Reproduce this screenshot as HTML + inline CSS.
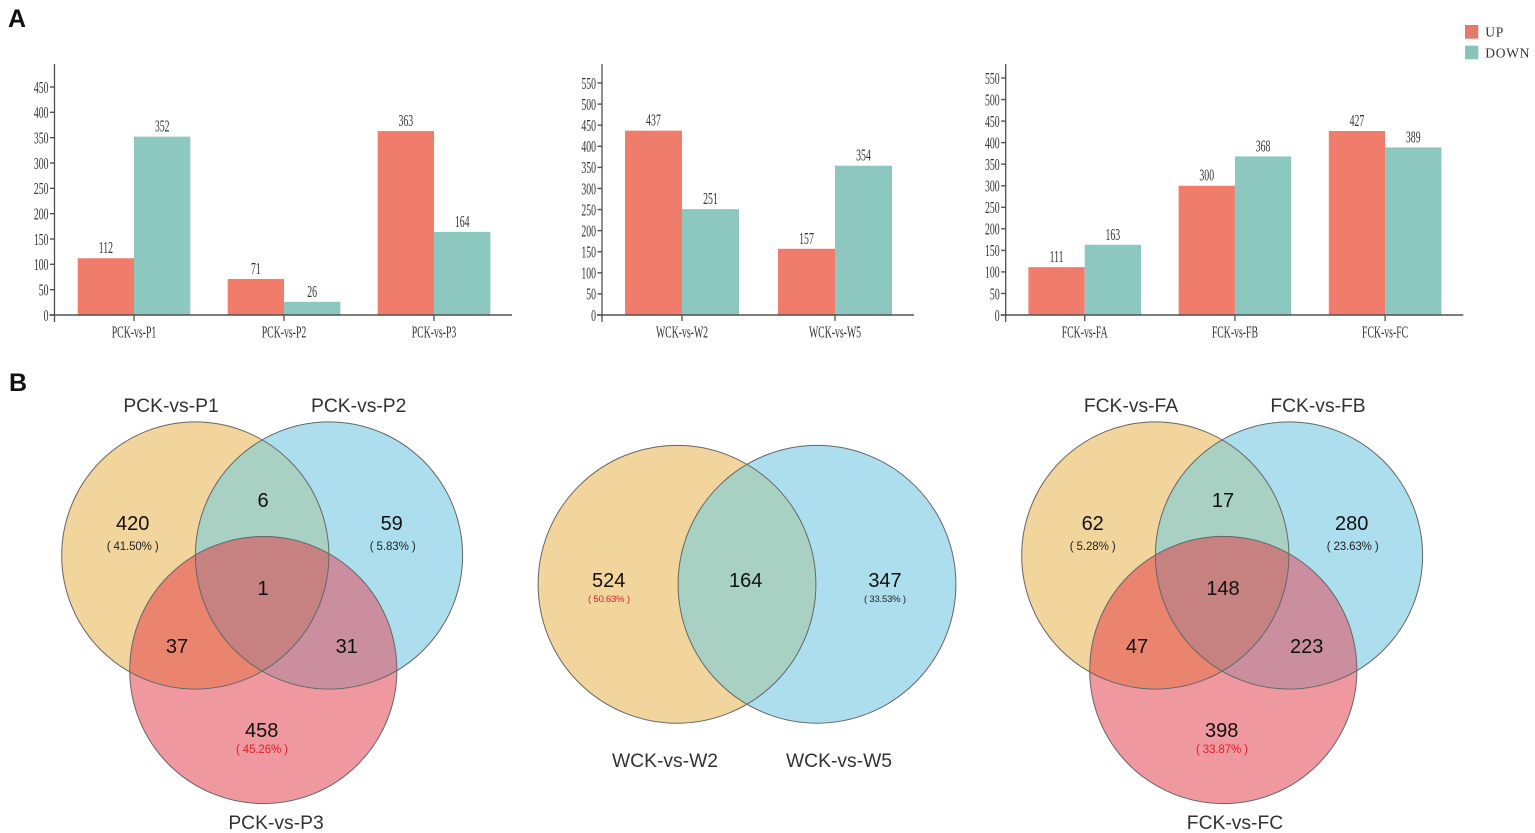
<!DOCTYPE html>
<html lang="en">
<head>
<meta charset="utf-8">
<title>Differential expression bar charts and Venn diagrams</title>
<style>
html,body{margin:0;padding:0;background:#fff;width:1535px;height:833px;overflow:hidden}
svg{display:block;filter:blur(0.35px)}
.panel{font-family:"Liberation Sans",sans-serif;font-weight:700;font-size:25px;fill:#111}
.serif{font-family:"Liberation Serif",serif;fill:#333}
.sans{font-family:"Liberation Sans",sans-serif}
</style>
</head>
<body>
<svg id="figure" xmlns="http://www.w3.org/2000/svg" width="1535" height="833" viewBox="0 0 1535 833">
  <text class="panel" x="8" y="27">A</text>
  <text class="panel" x="9" y="391">B</text>
  <g>
    <rect x="1465" y="25" width="13.3" height="13.7" fill="#E27B6C"/>
    <text class="serif" x="1485.3" y="36.7" font-size="13.5" letter-spacing="0.7">UP</text>
    <rect x="1465" y="45.7" width="13.3" height="13.6" fill="#89C3BB"/>
    <text class="serif" x="1485.3" y="57.3" font-size="13.5" letter-spacing="0.7">DOWN</text>
  </g>
  <g id="charts"></g>
  <g id="venns"></g>
</svg>
<script>
// ---- bar chart data ----
const pckCategories = ['PCK-vs-P1', 'PCK-vs-P2', 'PCK-vs-P3'];
const pckUp = [112, 71, 363];
const pckDown = [352, 26, 164];
const pckTicks = [0, 50, 100, 150, 200, 250, 300, 350, 400, 450];

const wckCategories = ['WCK-vs-W2', 'WCK-vs-W5'];
const wckUp = [437, 157];
const wckDown = [251, 354];
const wckTicks = [0, 50, 100, 150, 200, 250, 300, 350, 400, 450, 500, 550];

const fckCategories = ['FCK-vs-FA', 'FCK-vs-FB', 'FCK-vs-FC'];
const fckUp = [111, 300, 427];
const fckDown = [163, 368, 389];
const fckTicks = [0, 50, 100, 150, 200, 250, 300, 350, 400, 450, 500, 550];

// ---- venn data ----
const pckVennNames = ['PCK-vs-P1', 'PCK-vs-P2', 'PCK-vs-P3'];
const pckVennCounts = [420, 59, 458, 6, 37, 31, 1];
const pckVennPercents = ['41.50%', '5.83%', '45.26%'];

const wckVennNames = ['WCK-vs-W2', 'WCK-vs-W5'];
const wckVennCounts = [524, 347, 164];
const wckVennPercents = ['50.63%', '33.53%'];

const fckVennNames = ['FCK-vs-FA', 'FCK-vs-FB', 'FCK-vs-FC'];
const fckVennCounts = [62, 280, 398, 17, 47, 223, 148];
const fckVennPercents = ['5.28%', '23.63%', '33.87%'];

// ---- helpers ----
const NS = 'http://www.w3.org/2000/svg';
const UP_COLOR = '#F07C6C';
const DOWN_COLOR = '#8CC8C0';
const AXIS_COLOR = '#505050';

function make(parent, tag, attrs) {
  const el = document.createElementNS(NS, tag);
  for (const k in attrs) el.setAttribute(k, attrs[k]);
  parent.appendChild(el);
  return el;
}
function condensed(parent, str, x, y, anchor, size) {
  const el = make(parent, 'text', {
    'class': 'serif',
    'font-size': size,
    'text-anchor': anchor,
    transform: 'translate(' + x + ',' + y + ') scale(0.575,1)'
  });
  el.textContent = str;
  return el;
}
function slug(s) { return s.toLowerCase(); }

// ---- bar charts ----
function drawBarChart(cfg) {
  const root = document.getElementById('charts');
  const g = make(root, 'g', {});
  
  

  const y = v => cfg.zeroY - v * cfg.pxPerUnit;
  const x = i => cfg.firstCenter + i * cfg.band;

  cfg.categories.forEach((cat, i) => {
    const top1 = y(cfg.up[i]);
    const top2 = y(cfg.down[i]);
    const upBar = make(g, 'rect', { x: x(i) - cfg.barW, y: top1, width: cfg.barW, height: cfg.zeroY - top1, fill: UP_COLOR });
    
    
    const downBar = make(g, 'rect', { x: x(i), y: top2, width: cfg.barW, height: cfg.zeroY - top2, fill: DOWN_COLOR });
    
    

    const upLabel = condensed(g, String(cfg.up[i]), x(i) - cfg.barW / 2, top1 - 5, 'middle', 17);
    
    
    const downLabel = condensed(g, String(cfg.down[i]), x(i) + cfg.barW / 2, top2 - 5, 'middle', 17);
    
    

    const tick = make(g, 'line', { x1: x(i), x2: x(i), y1: cfg.zeroY, y2: cfg.zeroY + 6, stroke: AXIS_COLOR, 'stroke-width': 1.3 });
    
    
    const catLabel = condensed(g, cat, x(i), 337.3, 'middle', 17);
    
    
  });

  const yAxis = make(g, 'line', { x1: cfg.axisX, x2: cfg.axisX, y1: 64, y2: cfg.zeroY + 7, stroke: AXIS_COLOR, 'stroke-width': 1.3 });
  
  
  const xAxis = make(g, 'line', { x1: cfg.axisX - 5, x2: cfg.axisEnd, y1: cfg.zeroY, y2: cfg.zeroY, stroke: AXIS_COLOR, 'stroke-width': 1.6 });
  
  

  cfg.ticks.forEach(t => {
    const tk = make(g, 'line', { x1: cfg.axisX - 4.5, x2: cfg.axisX, y1: y(t), y2: y(t), stroke: AXIS_COLOR, 'stroke-width': 1.4 });
    
    
    const lb = condensed(g, String(t), cfg.axisX - 6, y(t) + 5.8, 'end', 17);
    
    
  });
}

drawBarChart({ key: 'pck', categories: pckCategories, up: pckUp, down: pckDown, ticks: pckTicks,
  axisX: 54.5, axisEnd: 512, zeroY: 315, pxPerUnit: 0.5067, firstCenter: 134, band: 150, barW: 56.3 });
drawBarChart({ key: 'wck', categories: wckCategories, up: wckUp, down: wckDown, ticks: wckTicks,
  axisX: 602, axisEnd: 914, zeroY: 315, pxPerUnit: 0.4218, firstCenter: 682, band: 153, barW: 57 });
drawBarChart({ key: 'fck', categories: fckCategories, up: fckUp, down: fckDown, ticks: fckTicks,
  axisX: 1005.7, axisEnd: 1463.3, zeroY: 315, pxPerUnit: 0.4309, firstCenter: 1084.7, band: 150.2, barW: 56.3 });

// ---- venn diagrams ----
const vennColors = { a: '#F2D59D', b: '#ADDEEE', c: '#F0989F', ab: '#A8D1C3', ac: '#EB846E', bc: '#CA8E9F', abc: '#C58281' };
const EDGE = '#666666';

function vennText(parent, str, x, y, size, fill) {
  const el = make(parent, 'text', { 'class': 'sans', x: x, y: y, 'font-size': size, 'text-anchor': 'middle', fill: fill });
  el.textContent = str;
  return el;
}
function pctText(parent, str, x, y, size, width, fill) {
  const el = make(parent, 'text', { 'class': 'sans', x: x, y: y, 'font-size': size, 'text-anchor': 'middle', fill: fill, textLength: width, lengthAdjust: 'spacing' });
  el.textContent = '( ' + str + ' )';
  return el;
}
function disc(parent, c, fill, extra) {
  const el = make(parent, 'circle', { cx: c.x, cy: c.y, r: c.r, fill: fill });
  if (extra) el.setAttribute('clip-path', extra);
  return el;
}

function drawThreeVenn(key, dx, names, counts, percents, redIndex, labelX) {
  const root = document.getElementById('venns');
  const g = make(root, 'g', {});
  
  
  const A = { x: 195.3 + dx, y: 555.5, r: 133.6 };
  const B = { x: 329 + dx, y: 555.5, r: 133.6 };
  const C = { x: 263.3 + dx, y: 670, r: 133.6 };
  const defs = make(g, 'defs', {});
  const clipA = make(defs, 'clipPath', { id: key + '-clip-a' });
  make(clipA, 'circle', { cx: A.x, cy: A.y, r: A.r });
  const clipB = make(defs, 'clipPath', { id: key + '-clip-b' });
  make(clipB, 'circle', { cx: B.x, cy: B.y, r: B.r });

  const ca = disc(g, A, vennColors.a);
  
  
  const cb = disc(g, B, vennColors.b);
  
  
  const cc = disc(g, C, vennColors.c);
  
  
  const urlA = 'url(#' + key + '-clip-a)';
  const urlB = 'url(#' + key + '-clip-b)';
  const ab = disc(g, B, vennColors.ab, urlA);
  
  
  const ac = disc(g, C, vennColors.ac, urlA);
  
  
  const bc = disc(g, C, vennColors.bc, urlB);
  
  
  const wrap = make(g, 'g', { 'clip-path': urlB });
  const abc = disc(wrap, C, vennColors.abc, urlA);
  
  
  [A, B, C].forEach(c => {
    const o = make(g, 'circle', { cx: c.x, cy: c.y, r: c.r, fill: 'none', stroke: EDGE, 'stroke-width': 1 });
    
    
  });

  const spots = [
    [132.7, 530], [391.7, 530], [261.7, 737], [263, 507], [177, 653], [346.7, 653], [263, 595]
  ];
  counts.forEach((n, i) => {
    const t = vennText(g, String(n), spots[i][0] + dx, spots[i][1], 20, '#111');
    
    
  });
  const pctSpots = [[132.7, 550], [392.7, 550], [262, 753]];
  percents.forEach((p, i) => {
    const w = p.length > 5 ? 52 : 46;
    const t = pctText(g, p, pctSpots[i][0] + dx, pctSpots[i][1], 11.5, w, i === redIndex ? '#E2202A' : '#222');
    
    
  });
  const ys = [412, 412, 829];
  names.forEach((nm, i) => {
    const t = vennText(g, nm, labelX[i], ys[i], 19.3, '#333');
    
    
  });
}

function drawTwoVenn(key, names, counts, percents) {
  const root = document.getElementById('venns');
  const g = make(root, 'g', {});
  
  
  const A = { x: 677, y: 584.3, r: 138.9 };
  const B = { x: 817, y: 584.3, r: 138.9 };
  const defs = make(g, 'defs', {});
  const clipA = make(defs, 'clipPath', { id: key + '-clip-a' });
  make(clipA, 'circle', { cx: A.x, cy: A.y, r: A.r });
  const ca = disc(g, A, vennColors.a);
  
  
  const cb = disc(g, B, vennColors.b);
  
  
  const ab = disc(g, B, vennColors.ab, 'url(#' + key + '-clip-a)');
  
  
  [A, B].forEach(c => {
    const o = make(g, 'circle', { cx: c.x, cy: c.y, r: c.r, fill: 'none', stroke: EDGE, 'stroke-width': 1 });
    
    
  });
  const spots = [[608.7, 587], [885, 587], [745.7, 587]];
  counts.forEach((n, i) => {
    const t = vennText(g, String(n), spots[i][0], spots[i][1], 20, '#111');
    
    
  });
  const pctSpots = [[609, 602], [885, 602]];
  percents.forEach((p, i) => {
    const t = pctText(g, p, pctSpots[i][0], pctSpots[i][1], 9.5, 42, i === 0 ? '#E2202A' : '#222');
    
    
  });
  const lx = [665, 839];
  names.forEach((nm, i) => {
    const t = vennText(g, nm, lx[i], 767, 19.3, '#333');
    
    
  });
}

drawThreeVenn('pck', 0, pckVennNames, pckVennCounts, pckVennPercents, 2, [171, 358.7, 276]);
drawTwoVenn('wck', wckVennNames, wckVennCounts, wckVennPercents);
drawThreeVenn('fck', 960, fckVennNames, fckVennCounts, fckVennPercents, 2, [1131, 1318, 1235]);
</script>
</body>
</html>
